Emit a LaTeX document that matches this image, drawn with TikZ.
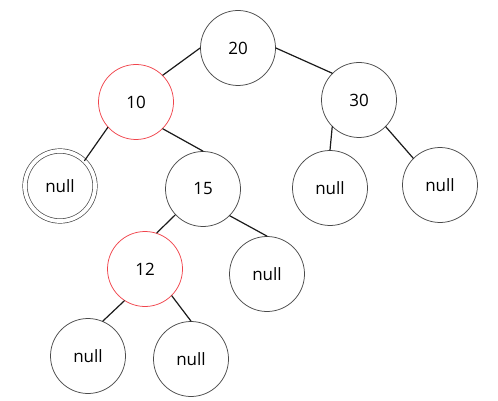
\documentclass[tikz,border=0pt]{standalone}
\usepackage{fontspec}
\setmainfont{Open Sans}
\usetikzlibrary{positioning}
\definecolor{ringgray}{HTML}{4A4A4A}
\definecolor{ringred}{HTML}{F0444C}
\definecolor{edgeblack}{HTML}{1A1A1A}

\begin{document}
\begin{tikzpicture}[
    x=1pt,y=-1pt,
    line cap=round,
    treenode/.style={circle, draw=ringgray, line width=0.75pt, minimum size=75pt, inner sep=0pt, font=\fontsize{17}{18}\selectfont},
    visited/.style={treenode, draw=ringred},
    leafnode/.style={treenode, double=white, double distance=3.8pt, line width=0.7pt, minimum size=70pt},
    branch/.style={draw=edgeblack, line width=1.2pt}
]
\useasboundingbox (0,0) rectangle (498,401);

% Keys
\node[treenode] (n20) at (238,48) {20};
\node[visited]  (n10) at (136,102) {10};
\node[treenode] (n30) at (359,100) {30};
\node[treenode] (n15) at (203,189) {15};
\node[visited]  (n12) at (145,269) {12};

% Empty children
\node[leafnode] (nullA) at (60,186) {null};
\node[treenode] (nullB) at (330,188) {null};
\node[treenode] (nullC) at (440,185) {null};
\node[treenode] (nullD) at (267,274) {null};
\node[treenode] (nullE) at (88,356) {null};
\node[treenode] (nullF) at (191,359) {null};

% Links
\draw[branch] (n20.west) -- (n10.45);
\draw[branch] (n20.east) -- (n30.135);
\draw[branch] (n10.222) -- (nullA.46);
\draw[branch] (n10.315) -- (n15.north);
\draw[branch] (n30.225) -- (nullB.north);
\draw[branch] (n30.315) -- (nullC.135);
\draw[branch] (n15.223) -- (n12.72);
\draw[branch] (n15.315) -- (nullD.north);
\draw[branch] (n12.237) -- (nullE.67);
\draw[branch] (n12.315) -- (nullF.north);

\end{tikzpicture}
\end{document}
